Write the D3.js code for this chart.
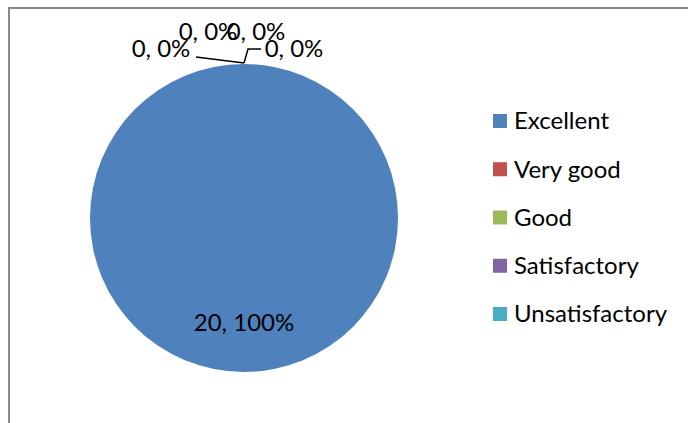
<!DOCTYPE html>
<html>
<head>
<meta charset="utf-8">
<script src="https://cdn.jsdelivr.net/npm/d3@7"></script>
<style>
  body { margin: 0; background: #fff; }
  text { font-family: Lato, "Open Sans", sans-serif; fill: #000; }
</style>
</head>
<body>
<div id="chart"></div>
<script>
// chart data
const categories = ["Excellent", "Very good", "Good", "Satisfactory", "Unsatisfactory"];
const values = [20, 0, 0, 0, 0];
const colors = ["#4F81BD", "#C0504D", "#9BBB59", "#8064A2", "#4BACC6"];

function init() {
    var w = 688;
    var h = 423;
    var cx = 244, cy = 218, r = 154;
    var fontSize = 24;

    const svg = d3.select("#chart")
        .append("svg")
        .attr("width", w)
        .attr("height", h);

    // frame (cropped chart area)
    svg.append("line")
        .attr("x1", 8).attr("y1", 8).attr("x2", w).attr("y2", 8)
        .attr("stroke", "#888").attr("stroke-width", 2);
    svg.append("line")
        .attr("x1", 9).attr("y1", 7).attr("x2", 9).attr("y2", h)
        .attr("stroke", "#888").attr("stroke-width", 2);

    const total = d3.sum(values);
    const pie = d3.pie().sort(null).value(d => d)(values);
    const arc = d3.arc().innerRadius(0).outerRadius(r);
    const labelArc = d3.arc().innerRadius(r * 1.36).outerRadius(r * 0);

    const g = svg.append("g").attr("transform", `translate(${cx},${cy})`);

    g.selectAll("path")
        .data(pie)
        .enter()
        .append("path")
        .attr("d", arc)
        .attr("fill", (d, i) => colors[i]);

    // labels: big slice at its centroid, empty slices stacked above the pie top
    // (offsets relative to the slice edge point, like Excel's auto layout)
    const nudges = [null, [-83, -7], [-36, -24], [12, -24], [50, -7]];
    const leaders = [null, [[-48, -7]], null, null, [[4, -15], [17, -15]]];

    pie.forEach((d, i) => {
        const text = values[i] + ", " + d3.format(".0%")(values[i] / total);
        if (d.endAngle - d.startAngle > 0) {
            const c = labelArc.centroid(d);
            g.append("text")
                .attr("x", c[0])
                .attr("y", c[1])
                .attr("dy", "0.35em")
                .attr("text-anchor", "middle")
                .attr("font-size", fontSize)
                .text(text);
        } else {
            const a = d.startAngle;
            const px = r * Math.sin(a), py = -r * Math.cos(a);
            const n = nudges[i];
            g.append("text")
                .attr("x", px + n[0])
                .attr("y", py + n[1])
                .attr("text-anchor", "middle")
                .attr("font-size", fontSize)
                .text(text);
            if (leaders[i]) {
                const pts = [[px, py - 1]].concat(leaders[i].map(p => [px + p[0], py + p[1]]));
                g.append("path")
                    .attr("d", d3.line()(pts))
                    .attr("fill", "none")
                    .attr("stroke", "#000")
                    .attr("stroke-width", 1.5);
            }
        }
    });

    // legend
    const legendY = d3.scalePoint().domain(categories).range([121, 314]);
    const lg = svg.append("g");
    const item = lg.selectAll("g")
        .data(categories)
        .enter()
        .append("g")
        .attr("transform", d => `translate(493,${legendY(d)})`);
    item.append("rect")
        .attr("x", 0).attr("y", -7)
        .attr("width", 14).attr("height", 14)
        .attr("fill", (d, i) => colors[i]);
    item.append("text")
        .attr("x", 21)
        .attr("y", 0)
        .attr("dy", "0.35em")
        .attr("font-size", fontSize)
        .text(d => d);
}

window.onload = init;
</script>
</body>
</html>
